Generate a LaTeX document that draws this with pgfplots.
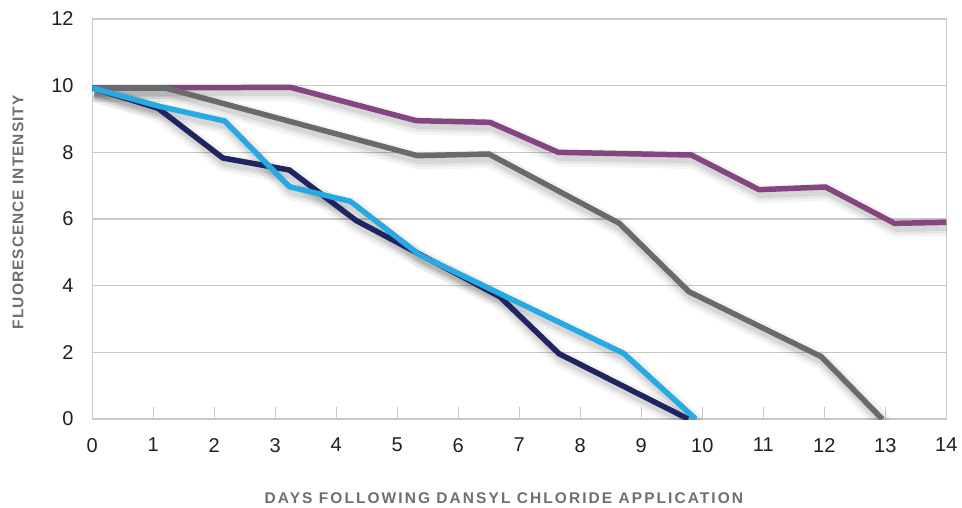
\documentclass[border=0pt]{standalone}
\usepackage{pgfplots}
\pgfplotsset{compat=1.18}
\usepackage{pgfplotstable}
\usepackage{fontspec}
\setmainfont{Liberation Sans}
\newfontfamily\xlabfont[LetterSpace=13.3]{Liberation Sans}
\newfontfamily\ylabfont[LetterSpace=6.5]{Liberation Sans}

\definecolor{cPurple}{RGB}{132,69,128}
\definecolor{cGray}{RGB}{104,106,110}
\definecolor{cNavy}{RGB}{30,37,96}
\definecolor{cSky}{RGB}{39,170,225}
\definecolor{cGrid}{RGB}{200,200,200}
\definecolor{cLabel}{RGB}{110,111,114}
\definecolor{cTick}{RGB}{35,31,32}

\pgfplotstableread{
x y
0 9.93
3.25 9.95
5.31 8.95
6.52 8.90
7.64 8.00
9.82 7.92
10.93 6.88
12.02 6.96
13.15 5.87
14 5.90
}\purpledata
\pgfplotstableread{
x y
0 9.93
1.20 9.93
5.33 7.90
6.50 7.95
8.64 5.87
9.78 3.82
11.95 1.87
12.95 0
}\graydata
\pgfplotstableread{
x y
0 9.93
1.08 9.32
2.14 7.83
3.23 7.47
4.32 5.96
5.35 4.96
6.68 3.67
7.65 1.96
9.77 0
}\navydata
\pgfplotstableread{
x y
0 9.93
1.10 9.38
2.17 8.94
3.23 6.97
4.23 6.53
5.37 4.92
8.71 1.97
9.89 0
}\skydata

\begin{document}
\begin{tikzpicture}
\begin{axis}[
    name=ax,
    scale only axis,
    width=854pt, height=400pt,
    xmin=0, xmax=14, ymin=0, ymax=12,
    xtick={0,1,...,14}, ytick={0,2,...,12},
    xtick pos=bottom, tick align=inside,
    major tick length=12pt,
    ytick style={draw=none},
    xtick style={draw=cGrid, line width=1.2pt},
    axis line style={draw=cGrid, line width=1.3pt},
    ymajorgrids,
    grid style={draw=cGrid, line width=1.3pt},
    /pgf/number format/assume math mode=true,
    tick label style={font=\fontsize{20}{24}\selectfont, text=cTick, inner sep=0pt},
    xticklabel style={anchor=north},
    xticklabel shift=19pt,
    yticklabel style={anchor=east},
    yticklabel shift=18.5pt,
    xlabel={\xlabfont\bfseries DAYS FOLLOWING DANSYL CHLORIDE APPLICATION},
    ylabel={\ylabfont\bfseries FLUORESCENCE INTENSITY},
    label style={font=\fontsize{15.5}{18}\selectfont, text=cLabel, inner sep=0pt},
    xlabel style={at={(axis description cs:0.482,-0.197)}, anchor=center},
    ylabel style={at={(axis description cs:-0.087,0.517)}, anchor=center},
    shadow/.style={draw=black, line join=round, xshift=2pt, yshift=-5pt},
    series/.style={line width=5.5pt, line join=miter, miter limit=4},
]
% soft drop shadows, widest first
\addplot[shadow, line width=18pt, opacity=0.045] table[x=x,y=y] {\purpledata};
\addplot[shadow, line width=12pt, opacity=0.055] table[x=x,y=y] {\purpledata};
\addplot[shadow, line width=7pt, opacity=0.075] table[x=x,y=y] {\purpledata};
\addplot[shadow, line width=18pt, opacity=0.045] table[x=x,y=y] {\graydata};
\addplot[shadow, line width=12pt, opacity=0.055] table[x=x,y=y] {\graydata};
\addplot[shadow, line width=7pt, opacity=0.075] table[x=x,y=y] {\graydata};
\addplot[shadow, line width=18pt, opacity=0.045] table[x=x,y=y] {\navydata};
\addplot[shadow, line width=12pt, opacity=0.055] table[x=x,y=y] {\navydata};
\addplot[shadow, line width=7pt, opacity=0.075] table[x=x,y=y] {\navydata};
\addplot[shadow, line width=18pt, opacity=0.045] table[x=x,y=y] {\skydata};
\addplot[shadow, line width=12pt, opacity=0.055] table[x=x,y=y] {\skydata};
\addplot[shadow, line width=7pt, opacity=0.075] table[x=x,y=y] {\skydata};
% the series
\addplot[series, color=cPurple] table[x=x,y=y] {\purpledata};
\addplot[series, color=cGray] table[x=x,y=y] {\graydata};
\addplot[series, color=cNavy] table[x=x,y=y] {\navydata};
\addplot[series, color=cSky] table[x=x,y=y] {\skydata};
\end{axis}
\path (ax.south west) ++(-92.3pt,-88pt) rectangle ++(962pt,507pt);
\end{tikzpicture}
\end{document}
